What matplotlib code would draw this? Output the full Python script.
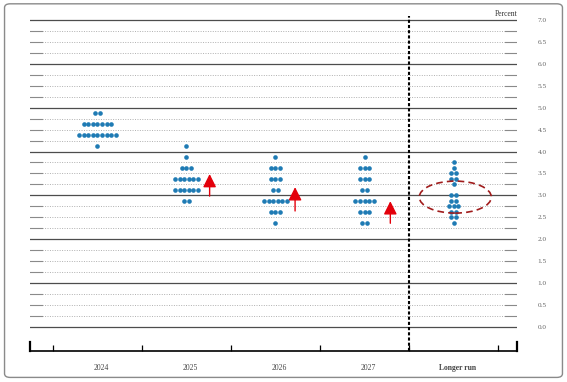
import numpy as np
import matplotlib
matplotlib.use('Agg')
from matplotlib import pyplot as plt
from matplotlib.patches import Ellipse, FancyBboxPatch
from matplotlib import transforms

# Categories and dot counts per rate level
categories = ['2024', '2025', '2026', '2027', 'Longer run']

levels_2024 = [4.875, 4.625, 4.375, 4.125]
counts_2024 = [2, 7, 9, 1]

levels_2025 = [4.125, 3.875, 3.625, 3.375, 3.125, 2.875]
counts_2025 = [1, 1, 3, 6, 6, 2]

levels_2026 = [3.875, 3.625, 3.375, 3.125, 2.875, 2.625, 2.375]
counts_2026 = [1, 3, 3, 2, 6, 3, 1]

levels_2027 = [3.875, 3.625, 3.375, 3.125, 2.875, 2.625, 2.375]
counts_2027 = [1, 3, 3, 2, 5, 3, 2]

levels_lr = [3.75, 3.625, 3.5, 3.375, 3.25, 3.0, 2.875, 2.75, 2.625, 2.5, 2.375]
counts_lr = [1, 1, 2, 2, 1, 2, 2, 3, 2, 2, 1]

columns = [(levels_2024, counts_2024), (levels_2025, counts_2025),
           (levels_2026, counts_2026), (levels_2027, counts_2027),
           (levels_lr, counts_lr)]

yticks = np.arange(0, 7.01, 0.5)

# annotation arrows: (x, tail, head)
arrows = [(1.26, 2.92, 3.55), (2.22, 2.58, 3.25), (3.29, 2.30, 2.93)]

serif = 'Liberation Serif'
dot_col = '#1f7bb4'
arrow_col = '#e3000b'

fig = plt.figure(figsize=(5.67, 3.82), dpi=100)
fig.patches.append(FancyBboxPatch((0.008, 0.012), 0.984, 0.978,
                                  boxstyle='round,pad=0,rounding_size=0.01',
                                  transform=fig.transFigure, fill=False,
                                  edgecolor='#8a8a8a', lw=1.0))
ax = fig.add_axes([0.0529, 0.0812, 0.8589, 0.8722])
x0, x1 = -0.758, 4.713
ax.set_xlim(x0, x1)
ax.set_ylim(-0.55, 7.05)

# horizontal grid
for y in np.arange(0, 7.01, 0.25):
    if abs(y - round(y)) < 1e-9:
        ax.plot([x0, x1], [y, y], color='#4d4d4d', lw=0.9, zorder=1)
    else:
        ax.plot([x0, x1], [y, y], color='#b0b0b0', lw=0.7, ls=(0, (1, 1.5)), zorder=1)
        ax.plot([x0, x0 + 0.13], [y, y], color='#8a8a8a', lw=0.8, zorder=1)
        ax.plot([x1 - 0.13, x1], [y, y], color='#8a8a8a', lw=0.8, zorder=1)

# dots
spacing = 0.051
for i, (levels, counts) in enumerate(columns):
    for lev, n in zip(levels, counts):
        xs = i + (np.arange(n) - (n - 1) / 2) * spacing
        ax.scatter(xs, [lev] * n, s=11, color=dot_col, linewidths=0, zorder=3)

# separator between 2027 and longer run
ax.plot([3.5, 3.5], [-0.55, 7.1], color='black', lw=1.5, ls=(0, (1.5, 1)),
        zorder=2, clip_on=False)

# arrows
for x, y0, y1 in arrows:
    ax.annotate('', xy=(x, y1), xytext=(x, y0),
                arrowprops=dict(arrowstyle='-|>,head_length=0.8,head_width=0.4',
                                color=arrow_col, lw=1.0), zorder=4)

# ellipse around longer run
ax.add_patch(Ellipse((4.02, 2.96), 0.81, 0.73, fill=False, edgecolor='#a01c1c',
                     lw=1.2, ls=(0, (4, 2.5)), zorder=4))

# axes styling
for s in ['top', 'left', 'right']:
    ax.spines[s].set_visible(False)
ax.spines['bottom'].set_color('black')
ax.spines['bottom'].set_linewidth(1.2)
ax.set_xticks(np.arange(-0.5, 4.6, 1.0))
ax.tick_params(axis='x', direction='in', length=4, width=0.9, color='black',
               labelbottom=False)
for xe in [x0, x1]:
    ax.axvline(xe, ymin=0, ymax=0.028, color='black', lw=1.6, clip_on=False)

trans = transforms.blended_transform_factory(ax.transData, ax.transAxes)
for i, c in enumerate(categories):
    ax.text(i + 0.04, -0.052, c, transform=trans, ha='center', va='center',
            fontsize=5.5, family=serif, color='#444444',
            fontweight='bold' if c == 'Longer run' else 'normal')

ax.yaxis.tick_right()
ax.set_yticks(yticks)
ax.set_yticklabels([f'{v:.1f}' for v in yticks], family=serif, fontsize=5.2,
                   color='#666666')
ax.tick_params(axis='y', length=0, pad=15)

fig.text(0.892, 0.963, 'Percent', ha='center', va='center', fontsize=5.5,
         family=serif, color='#333333')

fig.savefig('out.png', dpi=100)
